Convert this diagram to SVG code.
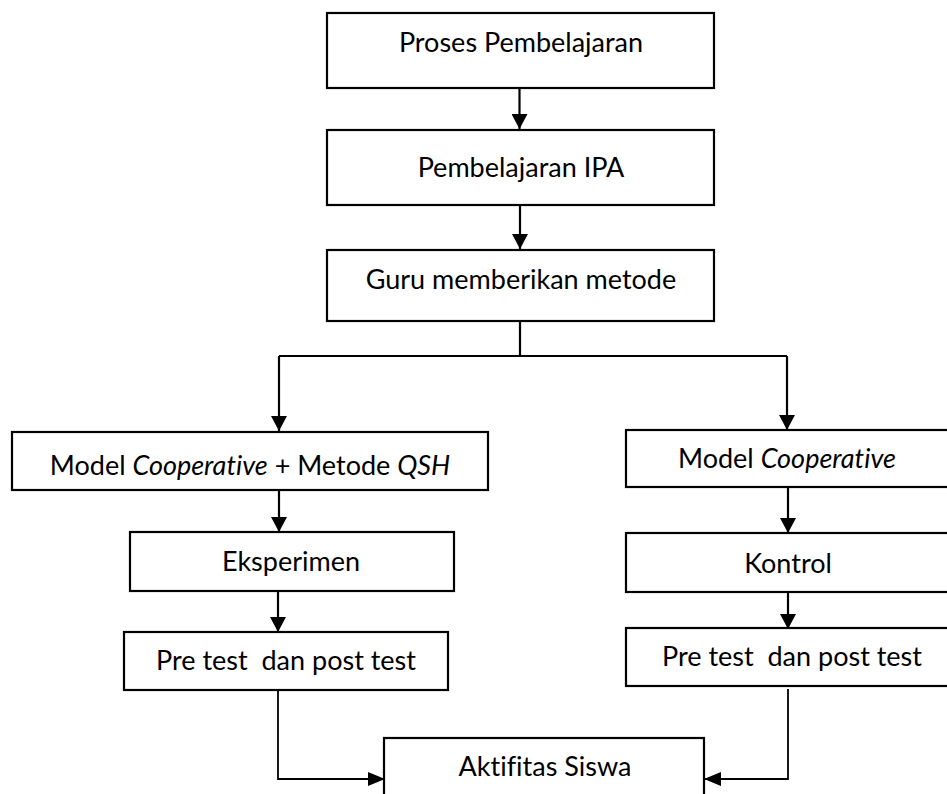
<svg xmlns="http://www.w3.org/2000/svg" width="947" height="794" viewBox="0 0 947 794">
<style>
.box{fill:#fff;stroke:#000;stroke-width:2.2}
.t{font-family:Lato,"Liberation Sans",sans-serif;font-size:27px;fill:#000;text-anchor:middle;font-variant-ligatures:none;font-feature-settings:"liga" 0}
.i{font-style:italic}
.ln{fill:none;stroke:#000;stroke-width:2.2}
.ln2{fill:none;stroke:#000;stroke-width:1.8}
</style>
<defs>
<marker id="ah" markerWidth="15" markerHeight="16" refX="15" refY="8" orient="auto" markerUnits="userSpaceOnUse">
<path d="M0,0 L15,8 L0,16 Z" fill="#000"/>
</marker>
<marker id="ah2" markerWidth="17" markerHeight="14" refX="17" refY="7" orient="auto" markerUnits="userSpaceOnUse">
<path d="M0,0 L17,7 L0,14 Z" fill="#000"/>
</marker>
</defs>
<rect width="947" height="794" fill="#fff"/>
<g id="connectors">
<path class="ln" d="M519.5,88 V129" marker-end="url(#ah)"/>
<path class="ln" d="M520,205 V249" marker-end="url(#ah)"/>
<path class="ln" d="M520,321 V356 M279,356 H787"/>
<path class="ln" d="M279,356 V431" marker-end="url(#ah)"/>
<path class="ln" d="M787,356 V430" marker-end="url(#ah)"/>
<path class="ln" d="M279,490 V532" marker-end="url(#ah)"/>
<path class="ln" d="M788,487 V533" marker-end="url(#ah)"/>
<path class="ln" d="M278,591 V632" marker-end="url(#ah)"/>
<path class="ln" d="M788,592 V629" marker-end="url(#ah)"/>
<path class="ln2" d="M278,690 V779 H385" marker-end="url(#ah2)"/>
<path class="ln2" d="M788,689 V779 H704" marker-end="url(#ah2)"/>
</g>
<g id="n1"><rect class="box" x="327" y="13" width="387" height="75"/><text class="t" x="521" y="52">Proses Pembelajaran</text></g>
<g id="n2"><rect class="box" x="327" y="130" width="387" height="75"/><text class="t" x="521" y="177">Pembelajaran IPA</text></g>
<g id="n3"><rect class="box" x="327" y="250" width="387" height="71"/><text class="t" x="521" y="289">Guru memberikan metode</text></g>
<g id="n4"><rect class="box" x="12" y="432" width="476" height="58"/><text class="t" x="250" y="475">Model <tspan class="i">Cooperative</tspan> + Metode <tspan class="i">QSH</tspan></text></g>
<g id="n5"><rect class="box" x="626" y="430" width="340" height="57"/><text class="t" x="787" y="468">Model <tspan class="i">Cooperative</tspan></text></g>
<g id="n6"><rect class="box" x="130" y="532" width="324" height="59"/><text class="t" x="291" y="571">Eksperimen</text></g>
<g id="n7"><rect class="box" x="626" y="533" width="340" height="59"/><text class="t" x="788" y="573">Kontrol</text></g>
<g id="n8"><rect class="box" x="124" y="632" width="324" height="58"/><text class="t" x="286" y="670" xml:space="preserve">Pre test  dan post test</text></g>
<g id="n9"><rect class="box" x="626" y="628" width="340" height="58"/><text class="t" x="792" y="666" xml:space="preserve">Pre test  dan post test</text></g>
<g id="n10"><rect class="box" x="384" y="738" width="320" height="70"/><text class="t" x="545" y="776">Aktifitas Siswa</text></g>
</svg>
